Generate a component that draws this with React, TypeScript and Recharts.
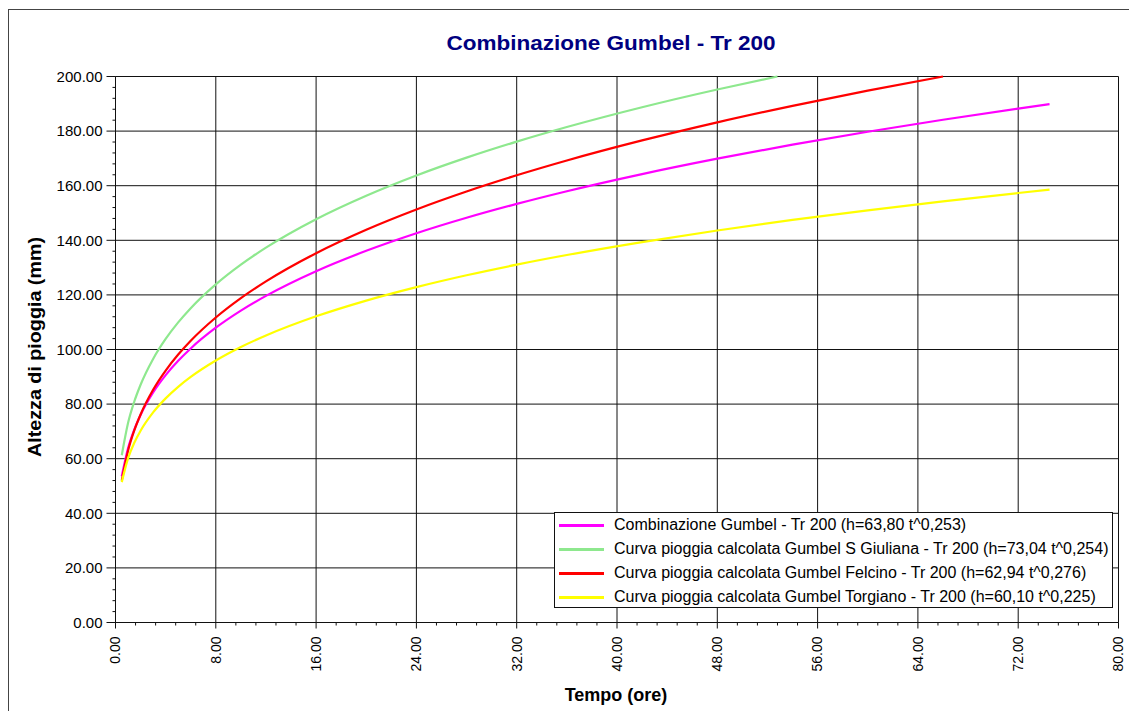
import { CartesianGrid, Line, LineChart, XAxis, YAxis } from "recharts"

// Durata (ore) e altezze di pioggia (mm) per le quattro curve
const tempi = [0.5, 1, 1.5, 2, 3, 4, 5, 6, 8, 10, 12, 16, 20, 24, 28, 32, 36, 42, 48, 54, 60, 66, 72, 74.5]
const combinazione = [
  53.54, 63.8, 70.69, 76.03, 84.24, 90.6, 95.87, 100.39, 107.97, 114.24, 119.63, 128.67, 136.14, 142.57, 148.24,
  153.32, 157.97, 164.25, 169.89, 175.04, 179.76, 184.15, 188.25, 189.87,
]
const tempiGiuliana = [0.5, 1, 1.5, 2, 3, 4, 5, 6, 8, 10, 12, 16, 20, 24, 28, 32, 36, 42, 48, 52.8]
const giuliana = [
  61.25, 73.04, 80.96, 87.1, 96.55, 103.87, 109.93, 115.14, 123.86, 131.09, 137.3, 147.71, 156.32, 163.74, 170.27,
  176.15, 181.5, 188.75, 195.25, 200.0,
]
const tempiFelcino = [0.5, 1, 1.5, 2, 3, 4, 5, 6, 8, 10, 12, 16, 20, 24, 28, 32, 36, 42, 48, 54, 60, 66]
const felcino = [
  51.98, 62.94, 70.39, 76.21, 85.24, 92.28, 98.14, 103.21, 111.73, 118.83, 124.96, 135.29, 143.88, 151.31, 157.89,
  163.81, 169.23, 176.58, 183.21, 189.26, 194.85, 200.0,
]
const torgiano = [
  51.42, 60.1, 65.84, 70.24, 76.95, 82.1, 86.33, 89.94, 95.95, 100.9, 105.12, 112.15, 117.92, 122.86, 127.2, 131.08,
  134.6, 139.35, 143.6, 147.46, 150.99, 154.27, 157.32, 158.53,
]

const xMajor = [0, 8, 16, 24, 32, 40, 48, 56, 64, 72, 80]
const yMajor = [0, 20, 40, 60, 80, 100, 120, 140, 160, 180, 200]

// minor ticks: 5 subdivisions between labelled ticks
const xTicks: number[] = []
for (let i = 0; i <= 50; i++) xTicks.push(Math.round(i * 1.6 * 100) / 100)
const yTicks: number[] = []
for (let i = 0; i <= 50; i++) yTicks.push(i * 4)

const toRows = (ts: number[], hs: number[]) => ts.map((t, i) => ({ t, h: hs[i] }))

const series = [
  { name: "Combinazione Gumbel - Tr 200 (h=63,80 t^0,253)", color: "#ff00ff", data: toRows(tempi, combinazione) },
  {
    name: "Curva pioggia calcolata Gumbel S Giuliana - Tr 200 (h=73,04 t^0,254)",
    color: "#8ee88e",
    data: toRows(tempiGiuliana, giuliana),
  },
  {
    name: "Curva pioggia calcolata Gumbel Felcino - Tr 200 (h=62,94 t^0,276)",
    color: "#ff0000",
    data: toRows(tempiFelcino, felcino),
  },
  {
    name: "Curva pioggia calcolata Gumbel Torgiano - Tr 200 (h=60,10 t^0,225)",
    color: "#ffff00",
    data: toRows(tempi, torgiano),
  },
]

const FONT = "'Liberation Sans', Arial, sans-serif"
const AXIS = "#111111"

const YTick = (props: any) => {
  const { x, y, index, payload } = props
  const major = index % 5 === 0
  return (
    <g>
      <line x1={x - (major ? 9 : 3)} x2={x} y1={y} y2={y} stroke={AXIS} />
      {major && (
        <text x={x - 13} y={y} dy="0.35em" textAnchor="end" fontFamily={FONT} fontSize={15} fill="#000">
          {payload.value.toFixed(2)}
        </text>
      )}
    </g>
  )
}

const XTick = (props: any) => {
  const { x, y, index, payload } = props
  const major = index % 5 === 0
  const ty = y + 14
  return (
    <g>
      <line x1={x} x2={x} y1={y} y2={y + (major ? 6 : 3)} stroke={AXIS} />
      {major && (
        <text
          x={x}
          y={ty}
          dy="0.35em"
          textAnchor="end"
          transform={`rotate(-90, ${x}, ${ty})`}
          fontFamily={FONT}
          fontSize={14}
          fill="#000"
        >
          {payload.value.toFixed(2)}
        </text>
      )}
    </g>
  )
}

export default function App() {
  return (
    <div
      style={{
        position: "absolute",
        left: 0,
        top: 0,
        width: 1129,
        height: 711,
        overflow: "hidden",
        background: "#fff",
      }}
    >
      <svg width={1129} height={711} style={{ position: "absolute", left: 0, top: 0 }}>
        <rect x={8.5} y={9.5} width={1300} height={900} fill="none" stroke="#444" />
        <text
          x={611}
          y={43}
          dy="0.35em"
          textAnchor="middle"
          fontFamily={FONT}
          fontWeight="bold"
          fontSize={21}
          fill="#000080"
          textLength={329}
          lengthAdjust="spacingAndGlyphs"
        >
          Combinazione Gumbel - Tr 200
        </text>
        <text
          x={35}
          y={347}
          dy="0.35em"
          textAnchor="middle"
          transform="rotate(-90, 35, 347)"
          fontFamily={FONT}
          fontWeight="bold"
          fontSize={18}
          fill="#000"
          textLength={220}
          lengthAdjust="spacingAndGlyphs"
        >
          Altezza di pioggia (mm)
        </text>
        <text x={616} y={695} dy="0.35em" textAnchor="middle" fontFamily={FONT} fontWeight="bold" fontSize={18} fill="#000">
          Tempo (ore)
        </text>
      </svg>

      <div style={{ position: "absolute", left: 0, top: 0 }}>
        <LineChart width={1129} height={711} margin={{ top: 76.5, right: 10.5, bottom: 48.5, left: 55.5 }}>
          <CartesianGrid stroke={AXIS} horizontalValues={yMajor} verticalValues={xMajor} />
          <XAxis
            type="number"
            dataKey="t"
            domain={[0, 80]}
            ticks={xTicks}
            interval={0}
            height={40}
            tickSize={0}
            tickMargin={0}
            axisLine={{ stroke: AXIS }}
            tick={<XTick />}
          />
          <YAxis
            type="number"
            domain={[0, 200]}
            ticks={yTicks}
            interval={0}
            width={60}
            tickSize={0}
            tickMargin={0}
            axisLine={{ stroke: AXIS }}
            tick={<YTick />}
          />
          {series.map((s) => (
            <Line
              key={s.name}
              data={s.data}
              dataKey="h"
              type="monotone"
              stroke={s.color}
              strokeWidth={2.2}
              dot={false}
              activeDot={false}
              isAnimationActive={false}
            />
          ))}
        </LineChart>
      </div>

      <div
        style={{
          position: "absolute",
          left: 554,
          top: 512,
          width: 557,
          height: 94,
          border: `1px solid ${AXIS}`,
          background: "#fff",
          fontFamily: FONT,
          fontSize: 16,
          color: "#000",
          boxSizing: "content-box",
        }}
      >
        {series.map((s) => (
          <div key={s.name} style={{ display: "flex", alignItems: "center", height: 24, whiteSpace: "nowrap" }}>
            <div style={{ width: 45, height: 3, background: s.color, marginLeft: 4, marginRight: 10 }} />
            <span>{s.name}</span>
          </div>
        ))}
      </div>
    </div>
  )
}
